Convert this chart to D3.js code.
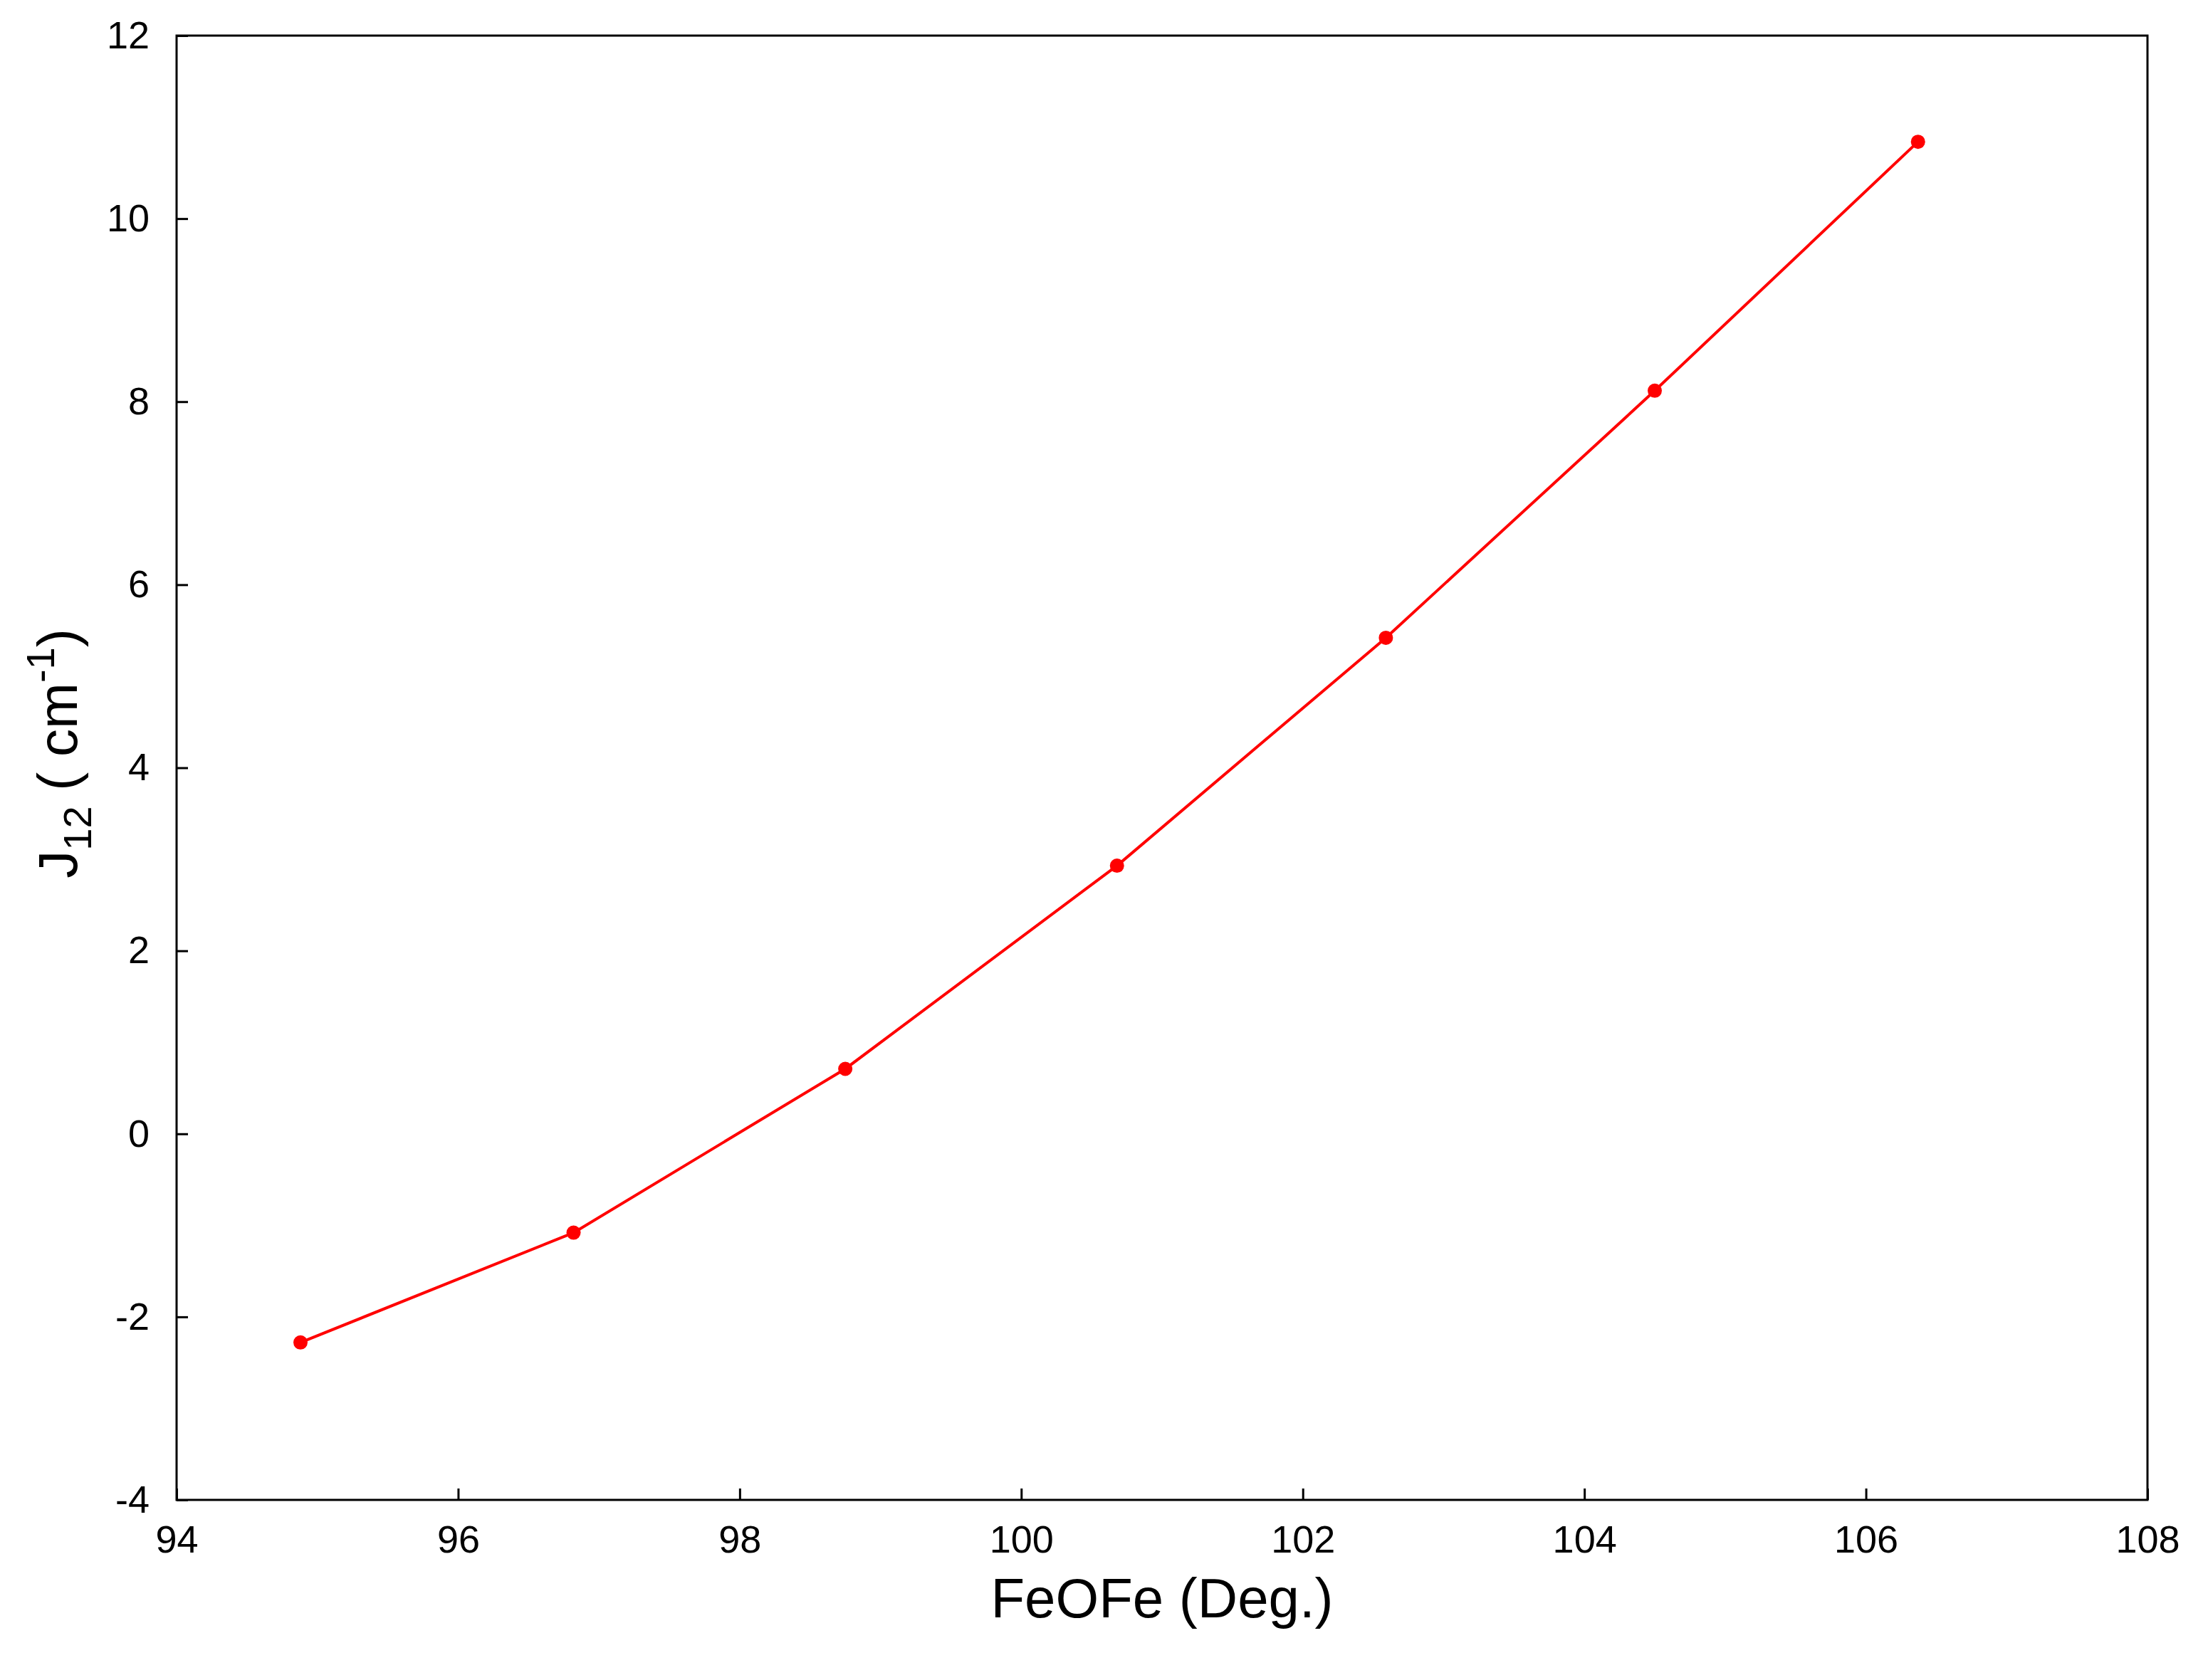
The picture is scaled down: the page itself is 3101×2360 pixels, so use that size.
<!DOCTYPE html>
<html><head><meta charset="utf-8">
<script src="https://cdn.jsdelivr.net/npm/d3@7"></script>
<style>body{margin:0;background:#fff}</style>
</head><body><div id="chart"></div>
<script>
const angles = [94.88, 96.82, 98.75, 100.68, 102.59, 104.5, 106.37];
const jValues = [-2.28, -1.08, 0.71, 2.93, 5.42, 8.12, 10.84];
const xTicks = [94, 96, 98, 100, 102, 104, 106, 108];
const yTicks = [-4, -2, 0, 2, 4, 6, 8, 10, 12];

const W = 3101, H = 2360;
const m = { left: 248, right: 85, top: 50, bottom: 253 };
const w = W - m.left - m.right, h = H - m.top - m.bottom;

const svg = d3.select("#chart").append("svg").attr("width", W).attr("height", H)
  .style("font-family", "Liberation Sans, Arial, sans-serif");
const g = svg.append("g").attr("transform", `translate(${m.left},${m.top})`);

const x = d3.scaleLinear().domain([94, 108]).range([0, w]);
const y = d3.scaleLinear().domain([-4, 12]).range([h, 0]);

g.append("rect").attr("width", w).attr("height", h)
  .attr("fill", "none").attr("stroke", "#000").attr("stroke-width", 3);

// inward ticks, plain hyphen for negatives
const fmt = d => String(d);
const xAxis = g.append("g").attr("transform", `translate(0,${h})`)
  .call(d3.axisBottom(x).tickValues(xTicks).tickFormat(fmt).tickSizeInner(-16).tickSizeOuter(0).tickPadding(36));
const yAxis = g.append("g")
  .call(d3.axisLeft(y).tickValues(yTicks).tickFormat(fmt).tickSizeInner(-16).tickSizeOuter(0).tickPadding(38));
[xAxis, yAxis].forEach(a => {
  a.select(".domain").remove();
  a.selectAll("line").attr("stroke-width", 3);
  a.selectAll("text").style("font-size", "54px").attr("fill", "#000")
    .style("font-family", "Liberation Sans, Arial, sans-serif");
});

const line = d3.line().x((d, i) => x(angles[i])).y(d => y(d));
g.append("path").datum(jValues).attr("d", line)
  .attr("fill", "none").attr("stroke", "#ff0000").attr("stroke-width", 4);
g.selectAll("circle").data(jValues).join("circle")
  .attr("cx", (d, i) => x(angles[i])).attr("cy", d => y(d)).attr("r", 10).attr("fill", "#ff0000");

svg.append("text").attr("x", m.left + w / 2).attr("y", 2272).attr("text-anchor", "middle")
  .style("font-size", "78px").text("FeOFe (Deg.)");

const yl = svg.append("text").attr("transform", `translate(108,${m.top + h / 2 - 20}) rotate(-90)`)
  .attr("text-anchor", "middle").style("font-size", "78px");
yl.append("tspan").text("J");
yl.append("tspan").attr("dy", 20).style("font-size", "56px").text("12");
yl.append("tspan").attr("dy", -20).text(" ( cm");
yl.append("tspan").attr("dy", -32).style("font-size", "56px").text("-1");
yl.append("tspan").attr("dy", 32).text(")");
</script></body></html>
